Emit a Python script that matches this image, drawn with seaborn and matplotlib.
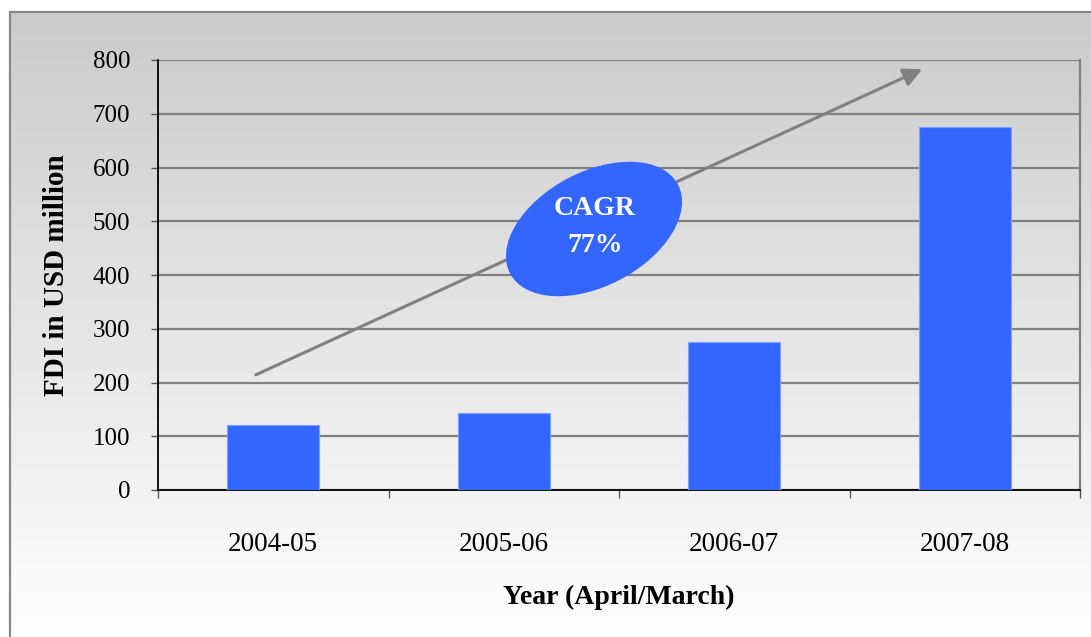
import numpy as np
import pandas as pd
import matplotlib
matplotlib.use("Agg")
import matplotlib.pyplot as plt
from matplotlib.patches import Ellipse, Rectangle
import seaborn as sns

# data
years = ['2004-05', '2005-06', '2006-07', '2007-08']
fdi = [121, 143, 275, 675]
cagr_text = 'CAGR\n77%'

df = pd.DataFrame({'Year': years, 'FDI': fdi})

sns.set_theme(style="white")
plt.rcParams['font.family'] = ['Liberation Serif', 'DejaVu Serif']
plt.rcParams['text.color'] = 'black'
plt.rcParams['axes.labelcolor'] = 'black'
plt.rcParams['xtick.labelcolor'] = 'black'
plt.rcParams['ytick.labelcolor'] = 'black'

W, H = 1091, 637
fig = plt.figure(figsize=(W / 100, H / 100), dpi=100)
fig.patch.set_facecolor('white')

# gradient background (grey at top fading to white)
bg = fig.add_axes([10 / W, 0, 1 - 10 / W, 1 - 12 / H], zorder=-1)
grad = np.linspace(0, 1, 256).reshape(-1, 1)
bg.imshow(grad, aspect='auto', cmap=matplotlib.colors.LinearSegmentedColormap.from_list(
    'g', ['#cbcbcb', '#ffffff']), extent=[0, 1, 0, 1])
bg.axis('off')

# figure frame
fig.patches.append(Rectangle((10 / W, -0.1), 1.2, 1 - 12 / H + 0.1, transform=fig.transFigure,
                             fill=False, edgecolor='#888888', linewidth=1.6, clip_on=False))

ax = fig.add_axes([158 / W, 1 - 490 / H, (1080 - 158) / W, (490 - 60) / H])
ax.set_facecolor('none')

sns.barplot(data=df, x='Year', y='FDI', color='#3366FF', width=0.4, saturation=1,
            edgecolor='#7f9fff', linewidth=0.8, ax=ax, zorder=3)

ax.set_ylim(0, 800)
ax.set_xlim(-0.5, len(years) - 0.5)
ax.set_yticks(range(0, 801, 100))
ax.yaxis.grid(True, color='#808080', linewidth=1.6, zorder=0)
ax.set_axisbelow(True)

ax.spines['top'].set_visible(False)
ax.spines['right'].set_color('#808080')
ax.spines['right'].set_linewidth(1.6)
ax.spines['left'].set_color('black')
ax.spines['bottom'].set_color('black')
ax.spines['left'].set_linewidth(1.3)
ax.spines['bottom'].set_linewidth(1.3)

ax.tick_params(axis='y', which='major', left=True, length=5, width=1, color='#555555',
               pad=15, labelsize=18)
ax.set_xticks(np.arange(-0.5, len(years), 1), minor=True)
ax.tick_params(axis='x', which='minor', bottom=True, length=6, width=1, color='#555555')
ax.tick_params(axis='x', which='major', bottom=False, length=0, pad=30, labelsize=19.5)

ax.set_ylabel('FDI in USD million', fontsize=21, fontweight='bold', labelpad=16)
ax.set_xlabel('Year (April/March)', fontsize=20, fontweight='bold', labelpad=20)

# growth arrow
ax.annotate('', xy=(2.826, 785), xytext=(-0.087, 212),
            arrowprops=dict(arrowstyle='-|>', color='#808080', lw=2.2, mutation_scale=28),
            zorder=4)

# CAGR bubble
ell = Ellipse((5.94, (H - 229) / 100), 1.90, 1.14, angle=28, transform=fig.dpi_scale_trans,
              facecolor='#3366FF', edgecolor='none', zorder=5)
ax.add_patch(ell)
ax.text(1.396, 489, cagr_text, ha='center', va='center', color='white', fontsize=20,
        fontweight='bold', linespacing=1.6, zorder=6)

fig.savefig('out.png', dpi=100)
